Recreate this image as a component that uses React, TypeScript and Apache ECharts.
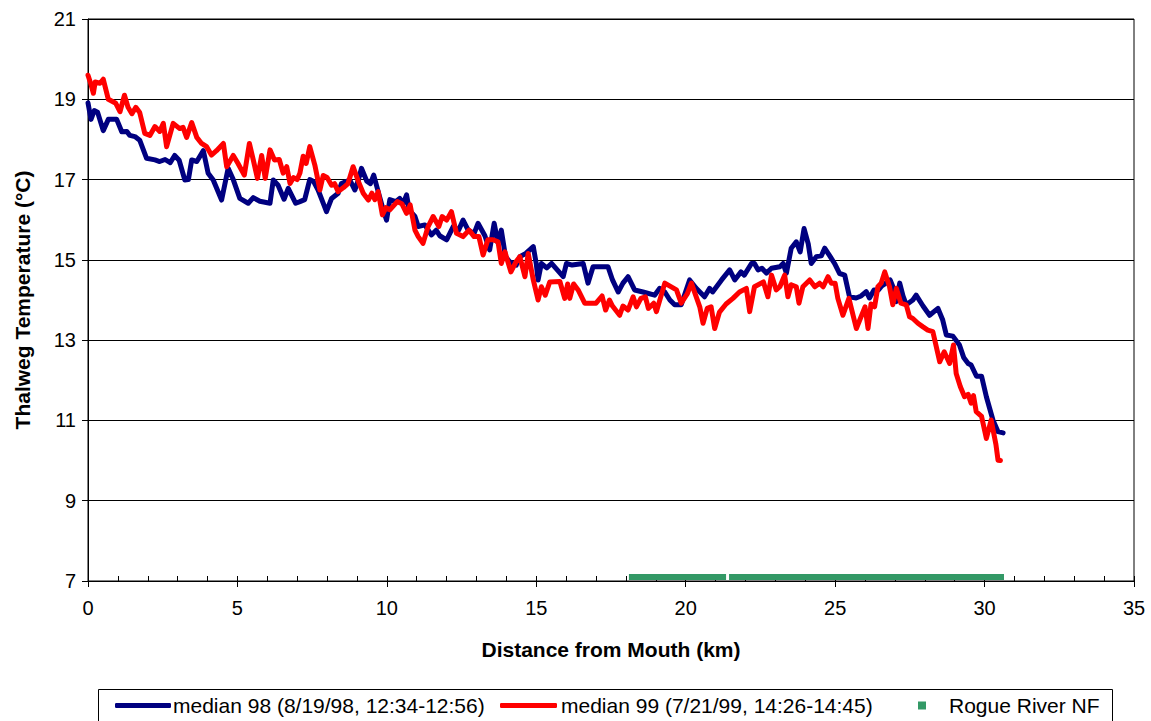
import React, { useEffect, useRef } from "react";
import * as echarts from "echarts";

const xTicks = [0, 5, 10, 15, 20, 25, 30, 35];
const yTicks = [7, 9, 11, 13, 15, 17, 19, 21];

const name98 = "median 98 (8/19/98, 12:34-12:56)";
const name99 = "median 99 (7/21/99, 14:26-14:45)";
const nameNF = "Rogue River NF";

// [distance km, temperature °C]
const median98: [number, number][] = [
  [0, 18.91], [0.1, 18.5], [0.21, 18.72], [0.32, 18.68], [0.51, 18.22], [0.68, 18.5],
  [0.96, 18.5], [1.13, 18.19], [1.3, 18.2], [1.4, 18.1], [1.57, 18.07], [1.73, 17.98],
  [1.96, 17.53], [2.24, 17.49], [2.4, 17.45], [2.58, 17.5], [2.75, 17.42], [2.9, 17.6],
  [3.05, 17.48], [3.24, 16.99], [3.36, 17.0], [3.47, 17.49], [3.64, 17.45], [3.86, 17.72],
  [4.02, 17.16], [4.19, 16.99], [4.47, 16.49], [4.69, 17.28], [4.86, 17.0], [5.08, 16.53],
  [5.36, 16.41], [5.53, 16.55], [5.75, 16.46], [6.09, 16.41], [6.2, 16.99], [6.36, 16.86],
  [6.56, 16.51], [6.7, 16.78], [6.95, 16.41], [7.09, 16.45], [7.25, 16.5], [7.42, 17.0],
  [7.55, 16.95], [7.7, 16.74], [7.85, 16.45], [7.98, 16.2], [8.15, 16.53], [8.37, 16.66],
  [8.48, 16.9], [8.76, 16.99], [8.93, 16.74], [9.05, 17.0], [9.15, 17.28], [9.33, 16.96],
  [9.45, 16.9], [9.56, 17.11], [9.71, 16.7], [9.88, 16.24], [9.99, 15.99], [10.1, 16.5],
  [10.3, 16.45], [10.43, 16.53], [10.55, 16.4], [10.66, 16.62], [10.75, 16.24], [10.94, 16.08],
  [11.05, 15.83], [11.27, 15.87], [11.49, 15.62], [11.65, 15.74], [11.77, 15.6], [12.0, 15.5],
  [12.22, 15.83], [12.4, 15.74], [12.55, 15.99], [12.72, 15.74], [12.92, 15.66], [13.05, 15.91],
  [13.28, 15.6], [13.44, 15.25], [13.59, 15.91], [13.72, 15.42], [13.83, 15.74], [13.97, 15.08],
  [14.11, 14.95], [14.33, 14.87], [14.45, 15.08], [14.65, 15.16], [14.9, 15.33], [15.0, 14.9],
  [15.06, 14.5], [15.17, 14.91], [15.35, 14.8], [15.51, 14.91], [15.9, 14.58], [16.01, 14.91],
  [16.2, 14.87], [16.57, 14.91], [16.73, 14.42], [16.9, 14.83], [17.4, 14.83], [17.55, 14.5],
  [17.74, 14.2], [17.9, 14.42], [18.07, 14.58], [18.29, 14.25], [18.57, 14.2], [18.96, 14.12],
  [19.13, 14.29], [19.3, 14.2], [19.47, 14.0], [19.63, 13.88], [19.85, 13.88], [20.13, 14.5],
  [20.35, 14.29], [20.63, 14.08], [20.8, 14.29], [20.9, 14.2], [21.2, 14.5], [21.47, 14.75],
  [21.64, 14.5], [21.85, 14.7], [21.96, 14.62], [22.2, 14.91], [22.3, 14.91], [22.42, 14.75],
  [22.55, 14.79], [22.7, 14.67], [22.87, 14.79], [23.15, 14.83], [23.26, 14.91], [23.37, 14.67],
  [23.53, 15.29], [23.7, 15.45], [23.83, 15.2], [23.96, 15.78], [24.1, 15.4], [24.2, 14.91],
  [24.37, 15.08], [24.54, 15.1], [24.65, 15.29], [24.82, 15.1], [24.98, 14.91], [25.15, 14.66],
  [25.32, 14.62], [25.48, 14.08], [25.7, 14.05], [25.87, 14.1], [26.04, 14.21], [26.15, 14.05],
  [26.3, 14.25], [26.45, 14.25], [26.56, 14.35], [26.7, 14.42], [26.84, 14.5], [26.95, 14.3],
  [27.05, 13.96], [27.16, 14.42], [27.27, 14.1], [27.38, 13.88], [27.6, 14.0], [27.71, 14.12],
  [27.94, 13.85], [28.16, 13.62], [28.44, 13.79], [28.6, 13.5], [28.72, 13.13], [28.94, 13.1],
  [29.16, 12.88], [29.3, 12.57], [29.45, 12.42], [29.55, 12.38], [29.73, 12.1], [29.9, 12.1],
  [30.06, 11.59], [30.28, 11.01], [30.45, 10.72], [30.62, 10.69],
];

const median99: [number, number][] = [
  [0, 19.6], [0.08, 19.42], [0.18, 19.15], [0.24, 19.43], [0.4, 19.4], [0.51, 19.5],
  [0.68, 19.0], [0.93, 18.9], [1.07, 18.69], [1.22, 19.1], [1.34, 18.8], [1.47, 18.64],
  [1.6, 18.8], [1.73, 18.67], [1.9, 18.15], [2.07, 18.1], [2.24, 18.32], [2.4, 18.2],
  [2.52, 18.4], [2.63, 17.82], [2.85, 18.4], [3.07, 18.27], [3.18, 18.3], [3.3, 18.05],
  [3.47, 18.42], [3.64, 18.05], [3.8, 17.9], [3.97, 17.82], [4.13, 17.61], [4.3, 17.72],
  [4.53, 17.9], [4.64, 17.32], [4.86, 17.6], [5.02, 17.4], [5.23, 17.11], [5.4, 17.9],
  [5.53, 17.49], [5.67, 17.03], [5.81, 17.6], [5.93, 17.03], [6.09, 17.74], [6.24, 17.49],
  [6.4, 17.5], [6.53, 17.16], [6.65, 17.32], [6.76, 16.9], [6.88, 17.05], [7.0, 17.0],
  [7.09, 17.16], [7.2, 17.58], [7.3, 17.4], [7.42, 17.82], [7.59, 17.36], [7.76, 16.74],
  [7.87, 17.1], [8.0, 17.05], [8.15, 16.86], [8.25, 16.9], [8.37, 16.7], [8.55, 16.8],
  [8.7, 16.9], [8.87, 17.32], [9.05, 16.95], [9.21, 16.66], [9.38, 16.49], [9.5, 16.66],
  [9.6, 16.5], [9.71, 16.7], [9.85, 16.12], [9.97, 16.3], [10.1, 16.25], [10.35, 16.45],
  [10.5, 16.4], [10.66, 16.16], [10.78, 16.37], [10.94, 15.74], [11.05, 15.58], [11.21, 15.41],
  [11.38, 15.83], [11.55, 16.08], [11.74, 15.83], [11.85, 16.08], [12.0, 15.99], [12.16, 16.2],
  [12.33, 15.66], [12.55, 15.58], [12.75, 15.74], [12.92, 15.58], [13.08, 15.58], [13.22, 15.12],
  [13.38, 15.5], [13.55, 15.5], [13.72, 15.45], [13.83, 14.91], [13.95, 15.2], [14.15, 14.7],
  [14.32, 14.95], [14.45, 15.08], [14.62, 14.58], [14.73, 15.16], [14.9, 14.5], [15.06, 14.0],
  [15.17, 14.33], [15.3, 14.12], [15.45, 14.45], [15.79, 14.46], [15.95, 14.04], [16.05, 14.4],
  [16.12, 14.04], [16.25, 14.4], [16.4, 14.25], [16.62, 13.92], [17.0, 13.92], [17.2, 14.1],
  [17.32, 13.75], [17.45, 14.0], [17.55, 13.85], [17.79, 13.62], [17.9, 13.85], [18.07, 13.75],
  [18.24, 14.08], [18.35, 13.83], [18.5, 14.04], [18.65, 14.08], [18.75, 13.79], [18.93, 13.92],
  [19.02, 13.71], [19.15, 14.04], [19.3, 14.42], [19.69, 14.25], [19.85, 13.92], [20.05, 14.15],
  [20.19, 14.42], [20.47, 13.83], [20.58, 13.42], [20.72, 13.79], [20.85, 13.83], [20.97, 13.29],
  [21.13, 13.7], [21.35, 13.9], [21.58, 14.04], [21.8, 14.2], [22.03, 14.29], [22.14, 13.71],
  [22.3, 14.33], [22.6, 14.45], [22.75, 14.08], [22.87, 14.62], [23.03, 14.25], [23.15, 14.33],
  [23.31, 14.62], [23.42, 14.08], [23.53, 14.38], [23.7, 14.33], [23.79, 13.92], [23.92, 14.33],
  [24.15, 14.5], [24.32, 14.33], [24.48, 14.42], [24.6, 14.33], [24.76, 14.58], [24.87, 14.42],
  [25.0, 14.42], [25.09, 14.04], [25.26, 13.62], [25.46, 14.04], [25.71, 13.29], [26.0, 13.83],
  [26.1, 13.29], [26.2, 13.9], [26.32, 13.83], [26.43, 14.33], [26.54, 14.42], [26.66, 14.7],
  [26.82, 14.33], [26.93, 13.88], [27.05, 14.29], [27.2, 13.92], [27.38, 13.88], [27.49, 13.58],
  [27.6, 13.54], [27.77, 13.42], [27.94, 13.33], [28.1, 13.25], [28.27, 13.21], [28.5, 12.46],
  [28.65, 12.71], [28.83, 12.42], [28.96, 12.88], [29.05, 12.17], [29.19, 11.84], [29.33, 11.59],
  [29.45, 11.65], [29.55, 11.43], [29.63, 11.62], [29.72, 11.22], [29.9, 11.1], [30.06, 10.55],
  [30.22, 11.01], [30.38, 10.4], [30.45, 10.01], [30.53, 10.0],
];

// Rogue River NF marker band: [start km, end km] stretches, drawn at temperature 7.1
const nfStretches: [number, number][] = [
  [18.1, 21.35],
  [21.45, 30.65],
];
const nfLevel = 7.1;

const FONT = "'Liberation Sans', Arial, sans-serif";

export default function App() {
  const ref = useRef<HTMLDivElement>(null);

  useEffect(() => {
    if (!ref.current) return;
    const chart = echarts.init(ref.current, undefined, { renderer: "svg" });

    const nfData: any[] = [];
    nfStretches.forEach(([a, b], i) => {
      if (i > 0) nfData.push([a, "-"]);
      nfData.push([a, nfLevel]);
      nfData.push([b, nfLevel]);
    });

    const legendText = { fontFamily: FONT, fontSize: 21, color: "#000" };

    const option: any = {
      animation: false,
      backgroundColor: "#ffffff",
      textStyle: { fontFamily: FONT },
      grid: {
        left: 88,
        right: 17,
        top: 19,
        bottom: 140,
        show: true,
        borderColor: "#000",
        borderWidth: 1,
        backgroundColor: "transparent",
      },
      xAxis: [
        {
          type: "value",
          min: xTicks[0],
          max: xTicks[xTicks.length - 1],
          interval: 5,
          name: "Distance from Mouth (km)",
          nameLocation: "middle",
          nameGap: 58,
          nameTextStyle: { fontFamily: FONT, fontSize: 21, fontWeight: "bold", color: "#000" },
          axisLine: { show: true, lineStyle: { color: "#000", width: 1 } },
          axisTick: { show: true, inside: false, length: 6, lineStyle: { color: "#000" } },
          axisLabel: { fontFamily: FONT, fontSize: 20, color: "#000", margin: 17 },
          splitLine: { show: false },
        },
        {
          type: "value",
          min: 0,
          max: 35,
          interval: 1,
          position: "bottom",
          axisLine: { show: false },
          axisTick: { show: true, inside: true, length: 5, lineStyle: { color: "#000" } },
          axisLabel: { show: false },
          splitLine: { show: false },
        },
      ],
      yAxis: {
        type: "value",
        min: yTicks[0],
        max: yTicks[yTicks.length - 1],
        interval: 2,
        name: "Thalweg Temperature (°C)",
        nameLocation: "middle",
        nameGap: 55,
        nameRotate: 90,
        nameTextStyle: { fontFamily: FONT, fontSize: 21, fontWeight: "bold", color: "#000" },
        axisLine: { show: true, lineStyle: { color: "#000", width: 1 } },
        axisTick: { show: true, inside: false, length: 6, lineStyle: { color: "#000" } },
        axisLabel: { fontFamily: FONT, fontSize: 20, color: "#000", margin: 12 },
        splitLine: { show: true, lineStyle: { color: "#000", width: 1 } },
      },
      legend: [
        {
          data: [{ name: name98, icon: "roundRect", itemStyle: { color: "#000080" } }],
          left: 115,
          top: 695,
          itemWidth: 56,
          itemHeight: 5,
          padding: 0,
          textStyle: { ...legendText, padding: [0, 0, 0, -3] },
        },
        {
          data: [{ name: name99, icon: "roundRect", itemStyle: { color: "#ff0000" } }],
          left: 500,
          top: 695,
          itemWidth: 57,
          itemHeight: 5,
          padding: 0,
          textStyle: { ...legendText, padding: [0, 0, 0, -1] },
        },
        {
          data: [{ name: nameNF, icon: "rect", itemStyle: { color: "#339966" } }],
          left: 918,
          top: 695,
          itemWidth: 8,
          itemHeight: 8,
          padding: 0,
          textStyle: { ...legendText, padding: [0, 0, 0, 18] },
        },
      ],
      graphic: [
        {
          type: "rect",
          shape: { x: 98.5, y: 689.5, width: 1014, height: 45 },
          style: { fill: "none", stroke: "#000", lineWidth: 1 },
          silent: true,
        },
      ],
      series: [
        {
          name: name98,
          type: "line",
          data: median98,
          symbol: "none",
          showSymbol: false,
          lineStyle: { color: "#000080", width: 5, cap: "round", join: "round" },
          itemStyle: { color: "#000080" },
          z: 3,
        },
        {
          name: name99,
          type: "line",
          data: median99,
          symbol: "none",
          showSymbol: false,
          lineStyle: { color: "#ff0000", width: 5, cap: "round", join: "round" },
          itemStyle: { color: "#ff0000" },
          z: 4,
        },
        {
          name: nameNF,
          type: "line",
          data: nfData,
          symbol: "none",
          showSymbol: false,
          connectNulls: false,
          lineStyle: { color: "#339966", width: 6, type: "solid" },
          itemStyle: { color: "#339966" },
          z: 2,
        },
      ],
    };

    chart.setOption(option);
    return () => chart.dispose();
  }, []);

  return (
    <div
      ref={ref}
      style={{ position: "fixed", left: 0, top: 0, width: 1151, height: 721, background: "#fff" }}
    />
  );
}
